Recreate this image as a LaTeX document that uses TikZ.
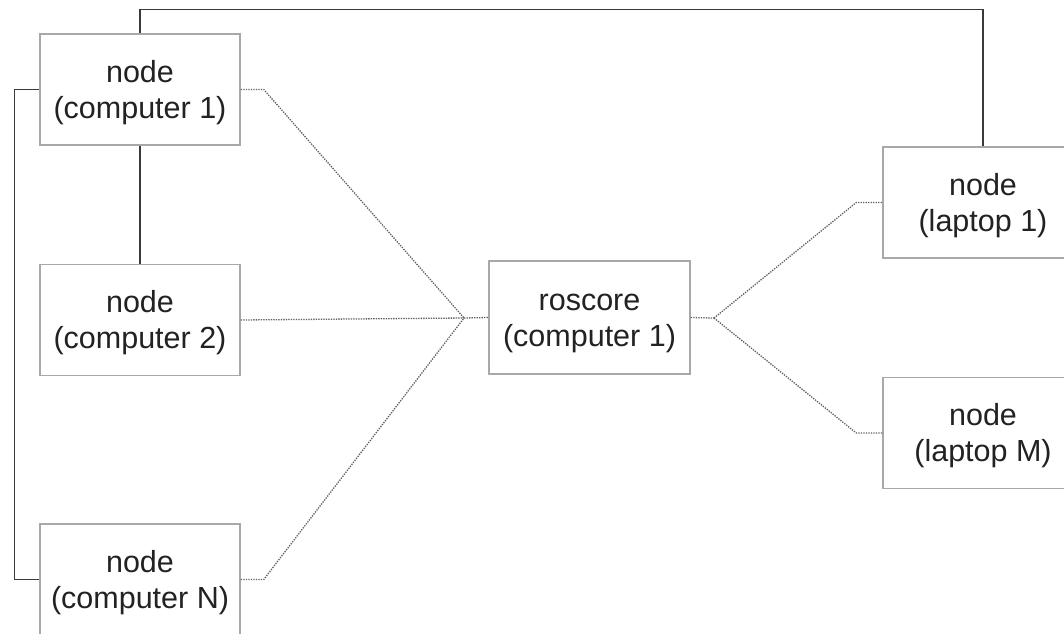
\documentclass[tikz,border=0pt]{standalone}
\usepackage{fontspec}
\setmainfont{Liberation Sans}
\definecolor{boxline}{HTML}{A8A8A8}
\definecolor{solidline}{HTML}{3A3A3A}
\definecolor{dotline}{HTML}{5E5E5E}
\definecolor{txt}{HTML}{222222}
\newcommand{\twolines}[2]{\rule{0pt}{30pt}#1\\#2\rule[-9pt]{0pt}{9pt}}
\begin{document}
\begin{tikzpicture}[x=1pt,y=-1pt,
  box/.style={draw=boxline,line width=1.5pt,fill=white,minimum width=200pt,minimum height=111pt,
    align=center,text=txt,font=\fontsize{30.5}{36}\selectfont,inner sep=0pt},
  solid link/.style={draw=solidline,line width=1.4pt},
  dot link/.style={draw=dotline,line width=1.3pt,dash pattern=on 1.3pt off 1.2pt}]
\useasboundingbox (0,0) rectangle (1064,633);
\clip (0,0) rectangle (1064,633);
\fill[white] (0,0) rectangle (1064,633);
\coordinate (hubL) at (464,318);
\coordinate (hubR) at (714,318);
\node[box] (c1) at (140,89.5) {\twolines{node}{(computer 1)}};
\node[box] (c2) at (140,320) {\twolines{node}{(computer 2)}};
\node[box] (cN) at (140,579.5) {\twolines{node}{(computer N)}};
\node[box,minimum width=201pt,minimum height=113pt] (ros) at (589.5,317.5) {\twolines{roscore}{(computer 1)}};
\node[box] (l1) at (983,202.5) {\twolines{node}{(laptop 1)}};
\node[box] (lM) at (983,433) {\twolines{node}{(laptop M)}};
% solid links
\draw[solid link] (c1.north) -- ++(0,-24) -| (l1.north);
\draw[solid link] (c1.west) -- ++(-25,0) |- (cN.west);
\draw[solid link] (c1.south) -- (c2.north);
% dotted links
\draw[dot link] (c1.east) -- ++(23,0) -- (hubL);
\draw[dot link] (c2.east) -- (hubL);
\draw[dot link] (cN.east) -- ++(23,0) -- (hubL);
\draw[dot link] (hubL) -- (ros.west);
\draw[dot link] (ros.east) -- (hubR);
\draw[dot link] (hubR) -- ([xshift=-26pt]l1.west) -- (l1.west);
\draw[dot link] (hubR) -- ([xshift=-26pt]lM.west) -- (lM.west);
\end{tikzpicture}
\end{document}
